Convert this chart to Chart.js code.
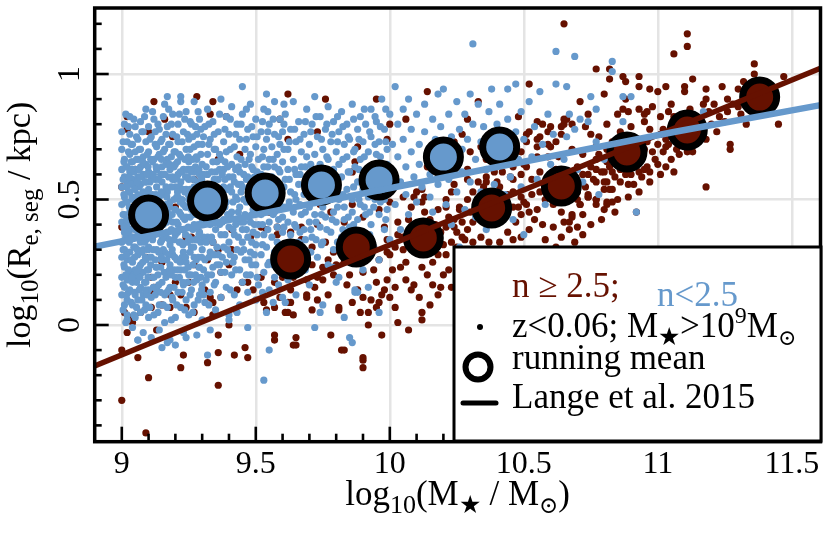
<!DOCTYPE html>
<html><head><meta charset="utf-8">
<script src="https://cdn.jsdelivr.net/npm/chart.js@4/dist/chart.umd.min.js"></script>
<style>html,body{margin:0;padding:0;background:#fff}canvas{display:block}
.pre{position:absolute;left:-1000px;top:0;font-family:"Liberation Serif";font-size:32px}</style>
</head><body>
<span class="pre">log 0.5 ★⊙≥</span>
<canvas id="c" width="830" height="536"></canvas>
<script>
const RED = '#661100', BLUE = '#6699cc';
const xTicks = [9, 9.5, 10, 10.5, 11, 11.5];
const yTicks = [0, 0.5, 1];

// running means
const redMeanX = [9.63, 9.875, 10.125, 10.38, 10.64, 10.885, 11.11, 11.38];
const redMeanY = [0.263, 0.311, 0.347, 0.466, 0.554, 0.689, 0.777, 0.908];
const blueMeanX = [9.10, 9.32, 9.535, 9.745, 9.96, 10.20, 10.41];
const blueMeanY = [0.438, 0.494, 0.526, 0.558, 0.578, 0.669, 0.709];

// Lange et al. 2015 relations
const langeRedX = [8.899, 11.607];
const langeRedY = [-0.163, 1.023];
const langeBlueX = [8.899, 11.06, 11.607];
const langeBlueY = [0.312, 0.769, 0.876];

// n<2.5 galaxies (x, y pairs)
const bluePts = [
9.00,0.62,9.00,0.55,9.00,0.48,9.00,0.41,9.00,0.33,9.00,0.27,9.00,0.19,9.00,0.12,9.00,0.70,9.00,0.77,
9.01,0.66,9.01,0.59,9.01,0.51,9.01,0.44,9.01,0.37,9.01,0.23,9.01,0.15,9.01,0.08,9.01,0.80,9.01,0.30,
9.02,0.73,9.02,0.63,9.02,0.57,9.02,0.49,9.02,0.40,9.02,0.34,9.02,0.26,9.02,0.18,9.02,0.04,9.02,0.10,
9.03,0.68,9.03,0.53,9.03,0.45,9.03,0.38,9.03,0.29,9.03,0.21,9.03,0.14,9.03,0.61,9.03,0.76,9.03,0.83,
9.04,0.72,9.04,0.65,9.04,0.58,9.04,0.50,9.04,0.42,9.04,0.35,9.04,0.25,9.04,0.17,9.04,0.08,9.04,-0.01,
9.05,0.79,9.05,0.62,9.05,0.55,9.05,0.47,9.05,0.39,9.05,0.31,9.05,0.22,9.05,0.12,9.05,0.03,9.05,0.69,
9.06,0.74,9.06,0.66,9.06,0.59,9.06,0.52,9.06,0.44,9.06,0.36,9.06,0.28,9.06,0.19,9.06,0.10,9.06,-0.06,
9.07,0.81,9.07,0.70,9.07,0.63,9.07,0.56,9.07,0.48,9.07,0.41,9.07,0.33,9.07,0.24,9.07,0.15,9.07,0.05,
9.08,0.77,9.08,0.67,9.08,0.60,9.08,0.53,9.08,0.45,9.08,0.37,9.08,0.30,9.08,0.21,9.08,0.12,9.08,-0.03,
9.09,0.73,9.09,0.64,9.09,0.57,9.09,0.50,9.09,0.42,9.09,0.34,9.09,0.26,9.09,0.17,9.09,0.08,9.09,0.86,
9.10,0.79,9.10,0.69,9.10,0.61,9.10,0.54,9.10,0.46,9.10,0.39,9.10,0.31,9.10,0.22,9.10,0.14,9.10,0.03,
9.11,0.75,9.11,0.58,9.11,0.27,9.11,0.11,9.11,-0.05,
9.12,0.82,9.12,0.66,9.12,0.49,9.12,0.36,9.12,0.19,9.12,0.04,
9.13,0.71,9.13,0.62,9.13,0.55,9.13,0.44,9.13,0.30,9.13,0.23,9.13,0.14,
9.14,0.78,9.14,0.68,9.14,0.51,9.14,0.39,9.14,0.08,9.14,-0.02,
9.15,0.74,9.15,0.63,9.15,0.57,9.15,0.47,9.15,0.34,9.15,0.26,9.15,0.17,
9.16,0.88,9.16,0.70,9.16,0.60,9.16,0.42,9.16,0.29,9.16,0.12,9.16,0.01,
9.17,0.79,9.17,0.66,9.17,0.53,9.17,0.45,9.17,0.37,9.17,0.21,9.17,0.07,
9.18,0.72,9.18,0.62,9.18,0.49,9.18,0.32,9.18,0.24,9.18,0.15,9.18,-0.06,
9.19,0.84,9.19,0.76,9.19,0.58,9.19,0.41,9.19,0.28,9.19,0.10,
9.20,0.69,9.20,0.64,9.20,0.55,9.20,0.46,9.20,0.36,9.20,0.19,9.20,0.03,
9.21,0.80,9.21,0.73,9.21,0.60,9.21,0.51,9.21,0.40,9.21,0.26,9.21,0.13,
9.22,0.91,9.22,0.67,9.22,0.57,9.22,0.44,9.22,0.33,9.22,0.22,9.22,0.07,
9.23,0.77,9.23,0.62,9.23,0.48,9.23,0.38,9.23,0.29,9.23,0.16,9.23,-0.03,
9.24,0.85,9.24,0.70,9.24,0.54,9.24,0.43,9.24,0.25,9.24,0.10,
9.25,0.74,9.25,0.65,9.25,0.58,9.25,0.50,9.25,0.35,9.25,0.20,9.25,0.04,
9.26,0.80,9.26,0.61,9.26,0.46,9.26,0.31,9.26,0.14,
9.27,0.89,9.27,0.71,9.27,0.55,9.27,0.40,9.27,0.27,9.27,0.08,
9.28,0.76,9.28,0.66,9.28,0.51,9.28,0.44,9.28,0.34,9.28,0.18,9.28,-0.04,
9.29,0.82,9.29,0.60,9.29,0.48,9.29,0.37,9.29,0.23,9.29,0.12,
9.30,0.72,9.30,0.64,9.30,0.56,9.30,0.41,9.30,0.30,9.30,0.16,9.30,0.02,
9.31,0.79,9.31,0.51,9.31,0.26,9.31,0.09,
9.32,0.86,9.32,0.68,9.32,0.60,9.32,0.45,9.32,0.35,9.32,0.20,
9.33,0.74,9.33,0.56,9.33,0.40,9.33,0.29,9.33,0.13,9.33,-0.02,
9.34,0.81,9.34,0.65,9.34,0.49,9.34,0.33,9.34,0.23,
9.35,0.70,9.35,0.61,9.35,0.44,9.35,0.38,9.35,0.17,9.35,0.06,
9.36,0.77,9.36,0.58,9.36,0.52,9.36,0.28,
9.37,0.90,9.37,0.66,9.37,0.46,9.37,0.36,9.37,0.21,9.37,0.11,
9.38,0.73,9.38,0.62,9.38,0.55,9.38,0.42,9.38,0.31,
9.39,0.83,9.39,0.69,9.39,0.49,9.39,0.25,9.39,0.15,
9.40,0.76,9.40,0.59,9.40,0.39,9.40,0.33,9.40,0.04,
9.41,0.87,9.41,0.64,9.41,0.53,9.41,0.45,9.41,0.20,
9.42,0.71,9.42,0.57,9.42,0.36,9.42,0.27,9.42,0.12,
9.43,0.80,9.43,0.67,9.43,0.50,9.43,0.41,9.43,0.30,
9.44,0.74,9.44,0.61,9.44,0.47,9.44,0.22,9.44,0.08,
9.45,0.84,9.45,0.55,9.45,0.38,9.45,0.33,9.45,0.17,
9.46,0.70,9.46,0.64,9.46,0.44,9.46,0.26,
9.47,0.78,9.47,0.59,9.47,0.51,9.47,0.35,9.47,0.13,9.47,-0.01,
9.48,0.88,9.48,0.68,9.48,0.41,9.48,0.29,9.48,0.20,
9.49,0.75,9.49,0.62,9.49,0.54,9.49,0.46,9.49,0.37,
9.50,0.82,9.50,0.71,9.50,0.57,9.50,0.32,9.50,0.24,9.50,0.10,
9.51,0.66,9.51,0.49,9.51,0.40,9.51,0.16,
9.52,0.77,9.52,0.60,9.52,0.44,9.52,0.28,
9.53,0.86,9.53,0.70,9.53,0.63,9.53,0.36,9.53,0.21,
9.54,0.74,9.54,0.56,9.54,0.47,9.54,0.31,9.54,0.05,
9.55,0.80,9.55,0.66,9.55,0.41,9.55,0.25,9.55,0.14,
9.56,0.71,9.56,0.59,9.56,0.52,9.56,0.35,
9.57,0.89,9.57,0.76,9.57,0.63,9.57,0.45,9.57,0.29,9.57,0.19,
9.58,0.68,9.58,0.55,9.58,0.39,9.58,0.33,
9.59,0.82,9.59,0.72,9.59,0.61,9.59,0.48,9.59,0.23,
9.60,0.77,9.60,0.65,9.60,0.43,9.60,0.37,9.60,0.11,
9.61,0.84,9.61,0.58,9.61,0.47,9.61,0.30,
9.62,0.70,9.62,0.62,9.62,0.41,9.62,0.18,
9.63,0.78,9.63,0.53,9.63,0.36,
9.64,0.89,9.64,0.66,9.64,0.45,9.64,0.26,
9.65,0.73,9.65,0.60,9.65,0.50,9.65,0.39,9.65,0.12,
9.66,0.81,9.66,0.56,9.66,0.33,
9.67,0.69,9.67,0.63,9.67,0.44,9.67,0.22,
9.68,0.76,9.68,0.52,9.68,0.38,
9.69,0.86,9.69,0.67,9.69,0.58,9.69,0.29,
9.70,0.72,9.70,0.47,9.70,0.41,9.70,0.16,
9.71,0.80,9.71,0.62,9.71,0.54,9.71,0.35,
9.72,0.91,9.72,0.68,9.72,0.44,
9.73,0.75,9.73,0.58,9.73,0.49,9.73,0.27,
9.74,0.83,9.74,0.64,9.74,0.39,
9.75,0.70,9.75,0.61,9.75,0.47,9.75,0.33,9.75,0.08,
9.76,0.78,9.76,0.53,9.76,0.43,
9.77,0.87,9.77,0.66,9.77,0.57,9.77,0.24,
9.78,0.73,9.78,0.50,9.78,0.37,
9.79,0.81,9.79,0.62,9.79,0.45,9.79,0.30,
9.80,0.69,9.80,0.55,9.80,0.41,
9.81,0.77,9.81,0.64,9.81,0.50,9.81,0.19,
9.82,0.85,9.82,0.59,9.82,0.35,
9.83,0.72,9.83,0.47,9.83,0.42,
9.84,0.80,9.84,0.67,9.84,0.54,9.84,0.28,
9.85,0.74,9.85,0.61,9.85,0.39,
9.86,0.88,9.86,0.50,9.86,0.45,
9.87,0.70,9.87,0.63,9.87,0.33,9.87,0.14,
9.88,0.78,9.88,0.57,9.88,0.42,
9.89,0.83,9.89,0.66,9.89,0.48,
9.90,0.73,9.90,0.54,9.90,0.37,9.90,0.22,
9.91,0.80,9.91,0.60,9.91,0.44,
9.92,0.69,9.92,0.51,
9.93,0.86,9.93,0.75,9.93,0.62,9.93,0.40,
9.94,0.57,9.94,0.47,9.94,0.31,
9.95,0.81,9.95,0.68,9.95,0.53,
9.96,0.73,9.96,0.44,9.96,0.26,
9.97,0.90,9.97,0.63,9.97,0.58,
9.98,0.78,9.98,0.50,9.98,0.38,
9.99,0.70,9.99,0.64,9.99,0.46,
10.00,0.84,10.00,0.55,10.00,0.34,
10.01,0.72,10.01,0.61,10.02,0.95,10.02,0.48,10.03,0.80,10.03,0.67,10.04,0.57,10.04,0.38,10.05,0.86,10.05,0.74,
10.06,0.52,10.06,0.63,10.07,0.44,10.07,0.90,10.08,0.78,10.08,0.69,10.09,0.59,10.09,0.33,10.10,0.84,10.10,0.49,
10.11,0.72,10.11,0.64,10.12,0.55,10.12,0.41,10.13,0.88,10.13,0.77,10.14,0.68,10.14,0.29,10.15,0.60,10.15,0.51,
10.16,0.82,10.16,0.45,10.17,0.74,10.17,0.36,10.18,0.92,10.18,0.56,10.19,0.79,10.19,0.62,10.20,0.94,10.20,0.70,
10.21,0.48,10.22,0.84,10.22,0.58,10.23,0.75,10.23,0.40,10.24,0.65,10.25,0.89,10.25,0.53,10.26,0.78,10.26,0.31,
10.27,0.70,10.27,0.61,10.28,0.84,10.28,0.46,10.29,0.74,10.30,0.92,10.30,0.57,10.31,1.12,10.31,0.80,10.32,0.66,
10.32,0.43,10.33,0.88,10.34,0.73,10.34,0.53,10.35,0.79,10.36,0.62,10.36,0.38,10.37,0.85,10.38,0.94,10.38,0.69,
10.39,0.56,10.40,0.80,10.40,0.47,10.41,0.88,10.42,0.76,10.42,0.64,10.43,0.52,10.44,0.94,10.44,0.82,10.45,0.71,
10.45,0.59,10.46,0.42,10.47,0.96,10.47,0.77,10.48,0.66,10.49,0.85,10.49,0.55,10.50,0.74,10.50,0.36,
10.52,0.89,10.53,0.67,10.54,0.79,10.55,0.58,10.56,0.93,10.57,0.72,10.58,0.48,10.59,0.84,10.60,0.64,10.61,0.76,
10.62,0.96,10.62,1.09,10.63,0.55,10.65,0.66,10.66,0.95,10.67,0.84,10.66,0.75,10.69,1.07,10.69,0.78,10.70,0.62,
10.72,0.57,10.75,0.91,10.77,0.86,10.74,0.81,10.71,0.82,10.77,0.73,10.80,0.66,10.83,1.05,10.83,1.01,10.87,0.91,
10.90,0.91,10.87,0.81,10.92,0.45,11.17,0.85,10.85,0.68,10.78,0.52,
9.17,0.91,9.22,0.89,9.45,0.95,9.54,0.92,9.53,-0.22,9.55,-0.10,9.61,0.09,9.72,-0.01,9.74,0.05,9.83,0.03,
9.85,-0.05,9.86,-0.07,9.88,0.13,9.40,0.02,9.43,0.05,9.32,-0.12,9.24,-0.05,9.17,-0.07,9.15,-0.09,9.20,-0.08,
9.06,-0.06,9.02,0.02,9.96,0.05,9.87,0.13,9.92,0.15,9.80,0.17,9.79,0.23,
9.005,0.58,9.005,0.44,9.005,0.30,9.005,0.16,9.005,0.73,9.005,0.06,
9.015,0.63,9.015,0.49,9.015,0.35,9.015,0.20,9.015,0.84,9.015,0.01,
9.025,0.69,9.025,0.53,9.025,0.37,9.025,0.22,9.025,0.79,9.025,0.13,
9.035,0.56,9.035,0.42,9.035,0.26,9.035,0.09,9.035,0.72,9.035,0.65,
9.045,0.61,9.045,0.46,9.045,0.31,9.045,0.20,9.045,0.82,9.045,0.04,
9.055,0.66,9.055,0.51,9.055,0.35,9.055,0.17,9.055,0.75,9.055,0.07,
9.065,0.70,9.065,0.55,9.065,0.40,9.065,0.23,9.065,0.62,9.065,0.14,
9.075,0.59,9.075,0.44,9.075,0.29,9.075,0.10,9.075,0.77,9.075,0.52,
9.085,0.64,9.085,0.49,9.085,0.33,9.085,0.17,9.085,0.83,9.085,0.06,
9.095,0.68,9.095,0.53,9.095,0.38,9.095,0.22,9.095,0.60,9.095,0.12,
9.105,0.74,9.105,0.57,9.105,0.43,9.105,0.27,9.105,0.35,9.105,0.07,
9.115,0.65,9.115,0.52,9.115,0.41,9.115,0.34,9.115,0.19,9.115,0.85,
9.125,0.72,9.125,0.58,9.125,0.44,9.125,0.26,9.125,0.12,9.125,0.77,
9.135,0.67,9.135,0.50,9.135,0.37,9.135,0.20,9.135,0.80,9.135,0.05,
9.145,0.60,9.145,0.45,9.145,0.33,9.145,0.23,9.145,0.13,9.145,0.73,
9.155,0.69,9.155,0.52,9.155,0.40,9.155,0.30,9.155,0.08,9.155,0.83,
9.165,0.64,9.165,0.48,9.165,0.35,9.165,0.19,9.165,0.76,9.165,0.55,
9.175,0.72,9.175,0.59,9.175,0.42,9.175,0.28,9.175,0.14,9.175,0.86,
9.185,0.67,9.185,0.55,9.185,0.38,9.185,0.20,9.185,0.80,9.185,0.02,
9.195,0.63,9.195,0.50,9.195,0.34,9.195,0.22,9.195,0.69,9.195,0.15,
9.205,0.75,9.205,0.59,9.205,0.41,9.205,0.26,9.205,0.08,9.205,0.51,
9.215,0.68,9.215,0.55,9.215,0.45,9.215,0.33,9.215,0.19,9.215,0.84,
9.225,0.73,9.225,0.61,9.225,0.50,9.225,0.38,9.225,0.27,9.225,0.13,
9.235,0.82,9.235,0.66,9.235,0.53,9.235,0.42,9.235,0.22,9.235,0.06,
9.245,0.76,9.245,0.62,9.245,0.47,9.245,0.33,9.245,0.17,9.245,0.59,
9.255,0.70,9.255,0.54,9.255,0.43,9.255,0.29,9.255,0.12,9.255,0.81,
9.265,0.66,9.265,0.52,9.265,0.38,9.265,0.24,9.265,0.75,9.265,0.05,
9.275,0.79,9.275,0.61,9.275,0.48,9.275,0.34,9.275,0.20,9.275,0.63,
9.285,0.72,9.285,0.57,9.285,0.40,9.285,0.27,9.285,0.10,9.285,0.85,
9.295,0.68,9.295,0.52,9.295,0.46,9.295,0.33,9.295,0.19,9.295,0.78,
9.305,0.75,9.305,0.60,9.305,0.46,9.305,0.35,9.305,0.22,9.305,0.12,
9.325,0.72,9.325,0.55,9.325,0.41,9.325,0.27,9.325,0.08,9.325,0.80,
9.345,0.76,9.345,0.58,9.345,0.43,9.345,0.28,9.345,0.16,9.345,0.70,
9.365,0.84,9.365,0.68,9.365,0.48,9.365,0.40,9.365,0.24,9.365,0.62,
9.385,0.78,9.385,0.65,9.385,0.47,9.385,0.36,9.385,0.21,9.385,0.58,
9.405,0.70,9.405,0.55,9.405,0.44,9.405,0.28,9.405,0.14,9.405,0.82,
9.425,0.76,9.425,0.62,9.425,0.51,9.425,0.40,9.425,0.22,9.425,0.06,
9.445,0.80,9.445,0.66,9.445,0.53,9.445,0.41,9.445,0.29,9.445,0.56,
9.465,0.74,9.465,0.58,9.465,0.49,9.465,0.38,9.465,0.20,9.465,0.86,
9.485,0.79,9.485,0.63,9.485,0.56,9.485,0.44,9.485,0.33,9.485,0.24,
9.505,0.75,9.505,0.61,9.505,0.52,9.505,0.45,9.505,0.36,9.505,0.19,
9.525,0.81,9.525,0.67,9.525,0.55,9.525,0.40,9.525,0.32,9.525,0.13,
9.545,0.77,9.545,0.63,9.545,0.51,9.545,0.38,9.545,0.24,9.545,0.85,
9.565,0.82,9.565,0.66,9.565,0.56,9.565,0.44,9.565,0.24,9.565,0.09,
9.585,0.75,9.585,0.62,9.585,0.50,9.585,0.42,9.585,0.28,9.585,0.16,
9.605,0.80,9.605,0.70,9.605,0.55,9.605,0.39,9.605,0.25,9.605,0.88,
9.625,0.73,9.625,0.58,9.625,0.49,9.625,0.33,9.625,0.24,
9.645,0.78,9.645,0.62,9.645,0.52,9.645,0.40,9.645,0.31,
9.665,0.74,9.665,0.60,9.665,0.48,9.665,0.37,9.665,0.27,
9.685,0.81,9.685,0.63,9.685,0.45,9.685,0.34,9.685,0.22,
9.705,0.77,9.705,0.64,9.705,0.56,9.705,0.38,9.705,0.29,
9.725,0.83,9.725,0.62,9.725,0.53,9.725,0.41,9.725,0.34,
9.745,0.74,9.745,0.58,9.745,0.44,9.745,0.32,
9.765,0.80,9.765,0.67,9.765,0.50,9.765,0.38,
9.785,0.76,9.785,0.61,9.785,0.54,9.785,0.42,
9.805,0.83,9.805,0.73,9.805,0.47,9.805,0.33,
9.825,0.79,9.825,0.66,9.825,0.52,9.825,0.38,
9.845,0.75,9.845,0.61,9.845,0.43,9.845,0.32,
9.865,0.82,9.865,0.69,9.865,0.55,9.865,0.40,
9.885,0.74,9.885,0.62,9.885,0.50,9.885,0.35,
9.905,0.86,9.905,0.67,9.905,0.57,9.905,0.47,
9.925,0.77,9.925,0.62,9.925,0.45,9.925,0.36,
9.945,0.83,9.945,0.72,9.945,0.64,9.945,0.50,
9.965,0.79,9.965,0.67,9.965,0.55,9.965,0.49,
9.985,0.86,9.985,0.73,9.985,0.58,9.985,0.42,
9.008,0.52,9.008,0.39,9.008,0.24,9.008,0.65,9.018,0.55,9.018,0.42,9.018,0.28,9.018,0.12,
9.028,0.47,9.028,0.33,9.028,0.18,9.028,0.59,9.038,0.51,9.038,0.35,9.038,0.19,9.038,0.62,
9.048,0.54,9.048,0.38,9.048,0.27,9.048,0.13,9.058,0.43,9.058,0.30,9.058,0.57,9.058,0.21,
9.068,0.46,9.068,0.36,9.068,0.19,9.068,0.59,9.078,0.50,9.078,0.39,9.078,0.25,9.078,0.65,
9.088,0.41,9.088,0.27,9.088,0.57,9.088,0.14,9.098,0.46,9.098,0.30,9.098,0.63,9.098,0.19,
9.108,0.51,9.108,0.37,9.108,0.24,9.108,0.66,9.118,0.46,9.118,0.30,9.118,0.60,9.118,0.15,
9.128,0.52,9.128,0.39,9.128,0.23,9.128,0.63,9.138,0.44,9.138,0.29,9.138,0.58,9.138,0.16,
9.148,0.53,9.148,0.40,9.148,0.27,9.148,0.66,9.158,0.46,9.158,0.35,9.158,0.21,9.158,0.60,
9.168,0.51,9.168,0.41,9.168,0.26,9.168,0.13,9.178,0.47,9.178,0.34,9.178,0.22,9.178,0.64,
9.188,0.44,9.188,0.30,9.188,0.59,9.188,0.11,9.198,0.46,9.198,0.37,9.198,0.27,9.198,0.58,
9.208,0.53,9.208,0.37,9.208,0.22,9.208,0.65,9.218,0.49,9.218,0.38,9.218,0.25,9.218,0.61,
9.228,0.54,9.228,0.43,9.228,0.32,9.228,0.17,9.238,0.47,9.238,0.36,9.238,0.27,9.238,0.59,
9.248,0.52,9.248,0.39,9.248,0.23,9.248,0.67,9.258,0.48,9.258,0.34,9.258,0.20,9.258,0.62,
9.268,0.58,9.268,0.44,9.268,0.31,9.268,0.17,9.278,0.53,9.278,0.39,9.278,0.26,9.278,0.67,
9.288,0.48,9.288,0.36,9.288,0.23,9.288,0.62,9.298,0.58,9.298,0.40,9.298,0.27,9.298,0.14,
9.315,0.63,9.315,0.47,9.315,0.33,9.315,0.18,9.335,0.61,9.335,0.47,9.335,0.35,9.335,0.20,
9.355,0.65,9.355,0.53,9.355,0.31,9.355,0.24,9.375,0.60,9.375,0.51,9.375,0.41,9.375,0.27,
9.395,0.63,9.395,0.54,9.395,0.44,9.395,0.30,9.415,0.59,9.415,0.49,9.415,0.38,9.415,0.25,
9.435,0.63,9.435,0.56,9.435,0.45,9.435,0.35,9.455,0.60,9.455,0.50,9.455,0.41,9.455,0.30,
9.475,0.66,9.475,0.55,9.475,0.43,9.475,0.26,9.495,0.59,9.495,0.50,9.495,0.40,9.495,0.28
];

// n>=2.5 galaxies (x, y pairs)
const redPts = [
9.00,-0.10,9.00,-0.30,9.06,-0.13,9.10,-0.21,9.09,-0.43,9.36,-0.24,9.22,-0.17,9.23,-0.12,9.32,-0.15,9.36,-0.11,
9.36,-0.04,9.40,0.00,9.42,-0.12,9.46,-0.09,9.47,-0.13,9.54,0.06,9.57,-0.04,9.57,-0.06,9.65,-0.05,9.65,-0.08,
9.64,0.04,9.62,0.05,9.69,0.12,9.73,0.10,9.78,-0.04,9.82,-0.10,9.81,0.06,9.90,-0.14,9.90,-0.17,9.97,-0.04,
10.03,0.01,10.02,0.07,10.12,0.05,10.12,0.02,10.16,0.16,10.20,0.20,10.23,0.15,9.02,-0.03,9.04,0.01,9.13,-0.02,
9.00,0.39,9.03,0.38,9.13,0.38,9.24,0.35,9.26,0.35,9.34,0.33,9.36,0.30,9.41,0.30,9.41,0.38,9.48,0.35,
9.54,0.38,9.58,0.36,9.40,0.24,9.37,0.21,9.32,0.26,9.27,0.24,9.15,0.25,9.09,0.27,9.11,0.19,9.12,0.15,
9.11,0.13,9.20,0.17,9.25,0.17,9.18,0.12,9.22,0.12,9.24,0.07,9.27,0.05,9.34,0.09,9.37,0.11,9.43,0.14,
9.49,0.14,9.53,0.09,9.57,0.07,9.61,0.05,9.62,0.09,9.01,0.05,9.03,0.03,9.07,0.05,9.11,0.07,9.15,0.08,
9.18,0.07,9.31,0.14,9.33,0.11,9.34,0.04,9.45,0.17,9.47,0.17,9.52,0.19,9.57,0.17,9.60,0.19,9.59,0.11,
9.12,0.89,9.28,0.91,9.34,0.89,9.02,0.83,9.02,0.78,9.16,0.82,9.33,0.84,9.39,0.83,9.62,0.92,9.59,0.82,
9.10,0.77,9.19,0.75,9.36,0.66,9.00,0.55,9.05,0.62,9.20,0.47,9.44,0.68,9.51,0.60,9.27,0.58,9.62,0.74,
9.70,0.55,9.55,0.45,9.52,0.39,9.58,0.39,
9.86,0.48,9.90,0.43,9.96,0.46,10.00,0.49,10.03,0.41,10.08,0.47,10.12,0.49,10.18,0.46,10.21,0.50,10.15,0.42,
10.26,0.47,10.24,0.39,10.29,0.38,10.28,0.34,10.31,0.41,10.20,0.32,10.21,0.28,10.18,0.28,10.16,0.25,10.12,0.23,
10.06,0.25,10.04,0.23,10.01,0.22,9.96,0.26,9.94,0.22,9.95,0.17,9.99,0.18,9.98,0.14,10.00,0.11,9.96,0.09,
9.93,0.10,9.95,0.07,9.90,0.11,9.88,0.14,9.84,0.16,9.79,0.20,9.75,0.18,9.73,0.19,9.69,0.18,9.64,0.19,
9.63,0.14,9.63,0.09,9.69,0.11,9.72,0.15,9.81,0.07,9.89,0.05,9.92,0.05,10.08,0.14,10.11,0.11,10.18,0.12,
10.19,0.15,10.09,0.16,9.64,-0.08,9.83,-0.10,9.90,-0.13,
9.74,0.48,9.78,0.45,9.83,0.41,9.73,0.40,9.67,0.39,9.63,0.37,9.67,0.34,9.71,0.31,9.76,0.33,9.79,0.29,
9.83,0.25,9.88,0.25,9.90,0.21,9.99,0.34,9.99,0.29,10.02,0.31,10.05,0.35,9.97,0.52,10.09,0.51,10.13,0.51,
10.14,0.93,10.52,0.96,10.33,0.89,10.06,0.82,10.00,0.80,9.99,0.74,9.88,0.71,9.87,0.65,9.86,0.61,9.76,0.90,
9.95,0.90,9.73,0.77,10.29,0.82,10.48,0.83,10.51,0.76,10.55,0.74,10.59,0.72,10.64,0.79,10.65,0.82,10.55,0.67,
10.45,0.71,10.40,0.69,10.36,0.66,10.34,0.71,10.30,0.69,10.27,0.76,10.24,0.73,10.21,0.67,10.14,0.63,10.12,0.54,
10.10,0.53,10.05,0.51,10.29,0.62,10.29,0.58,10.24,0.56,10.46,0.58,10.51,0.63,10.41,0.55,10.36,0.57,
10.80,0.92,10.88,0.90,10.71,0.89,10.66,0.82,10.68,0.80,10.73,0.79,10.52,0.77,10.56,0.75,10.59,0.77,10.64,0.76,
10.62,0.73,10.60,0.71,10.55,0.71,10.51,0.73,10.49,0.69,10.59,0.67,10.63,0.67,10.68,0.70,10.72,0.68,10.77,0.66,
10.81,0.65,10.77,0.62,10.74,0.60,10.70,0.63,10.67,0.61,10.77,0.57,10.81,0.57,10.83,0.54,10.86,0.57,10.90,0.60,
10.91,0.56,10.89,0.51,10.85,0.50,10.81,0.49,10.77,0.48,10.74,0.51,10.70,0.50,10.72,0.44,10.68,0.43,10.65,0.41,
10.61,0.39,10.57,0.40,10.54,0.42,10.52,0.45,10.50,0.49,10.49,0.51,10.46,0.53,10.48,0.47,10.52,0.38,10.49,0.35,
10.46,0.34,10.44,0.37,10.41,0.33,10.37,0.33,10.34,0.35,10.31,0.33,10.27,0.35,10.25,0.31,10.23,0.33,10.21,0.39,
10.24,0.42,10.26,0.46,10.29,0.50,10.31,0.53,10.35,0.55,10.40,0.57,10.45,0.59,10.49,0.60,10.50,0.64,10.46,0.63,
10.42,0.61,10.39,0.61,10.36,0.59,10.33,0.57,10.23,0.53,10.21,0.47,10.55,0.81,10.57,0.80,10.60,0.79,10.65,0.80,
10.74,0.84,10.75,0.76,10.78,0.75,10.83,0.73,10.87,0.71,10.77,0.71,10.81,0.80,10.85,0.84,10.87,0.86,10.53,0.58,
10.56,0.61,10.60,0.59,10.62,0.62,
10.58,0.34,10.62,0.31,10.64,0.35,10.69,0.33,10.72,0.36,10.75,0.40,10.79,0.42,10.80,0.46,10.84,0.45,10.92,0.45,
10.67,0.41,10.70,0.39,10.67,0.38,10.71,0.48,10.77,0.50,10.74,0.52,
10.65,1.20,11.11,1.16,11.11,1.11,11.06,1.08,10.77,1.02,10.82,1.02,10.82,0.98,10.87,0.99,10.93,0.99,10.88,0.97,
10.93,0.95,10.97,0.94,11.00,0.93,11.03,0.95,11.10,0.95,11.13,0.98,11.18,0.94,11.24,0.95,11.30,0.94,11.32,0.97,
11.36,1.04,11.36,1.00,11.47,0.99,11.45,0.80,11.27,0.72,11.27,0.70,11.18,0.74,11.18,0.55,11.26,0.85,11.26,0.90,
11.18,0.90,11.17,0.88,11.10,0.93,11.05,0.88,11.04,0.85,11.01,0.83,10.98,0.87,10.96,0.85,10.93,0.86,10.89,0.85,
10.95,0.84,10.95,0.81,11.01,0.76,11.03,0.74,11.03,0.71,11.02,0.69,11.08,0.68,11.11,0.69,11.13,0.69,11.06,0.61,
11.03,0.63,11.01,0.60,10.97,0.57,10.97,0.61,10.94,0.59,10.93,0.61,10.89,0.56,10.96,0.63,10.92,0.65,10.83,0.61,
10.80,0.61,10.80,0.57,10.80,0.54,10.82,0.54,10.83,0.49,10.81,0.48,10.77,0.50,10.74,0.51,10.71,0.48,10.68,0.44,
11.20,0.80,11.23,0.83,11.15,0.82,11.08,0.79,11.06,0.83,11.12,0.86,11.21,0.88,11.30,0.87,11.34,0.91,11.40,0.95,
11.42,0.88,11.38,0.84,11.33,0.80,11.14,0.76,11.09,0.73,11.00,0.72,10.97,0.78,10.93,0.74,10.99,0.66,11.05,0.66,
10.95,0.70,10.90,0.79,10.86,0.77,10.84,0.68,10.88,0.64,10.93,0.53,10.86,0.62,
10.30,0.45,10.32,0.48,10.34,0.44,10.36,0.50,10.38,0.41,10.39,0.46,10.41,0.49,10.43,0.43,10.44,0.52,10.46,0.47,
10.47,0.41,10.49,0.44,10.51,0.48,10.53,0.52,10.55,0.46,10.56,0.53,10.58,0.50,10.60,0.55,10.61,0.48,10.63,0.51,
10.64,0.45,10.66,0.55,10.67,0.50,10.69,0.57,10.70,0.53,10.72,0.60,10.73,0.55,10.75,0.63,10.76,0.58,10.78,0.68,
10.79,0.61,10.81,0.70,10.82,0.63,10.84,0.59,10.85,0.74,10.87,0.66,10.88,0.60,10.90,0.68,10.91,0.72,10.93,0.66,
10.95,0.62,10.96,0.73,10.98,0.69,11.00,0.64,11.02,0.78,11.04,0.72,11.06,0.75,11.07,0.70,11.10,0.80,11.12,0.74,
11.16,0.78,11.19,0.85,11.22,0.77,11.25,0.81,11.28,0.88,11.31,0.84,11.35,0.87,11.37,0.93,11.44,0.91,
10.27,0.41,10.25,0.37,10.22,0.43,10.19,0.37,10.17,0.40,10.14,0.35,10.13,0.45,10.10,0.39,10.07,0.42,10.05,0.30,
10.03,0.36,10.00,0.28,9.98,0.39,9.94,0.31,9.92,0.36,9.90,0.29,9.87,0.33,9.85,0.20,9.82,0.30,9.80,0.24,
9.77,0.26,9.75,0.23,9.71,0.24,9.68,0.27,9.66,0.21,9.65,0.30,10.10,0.30,10.14,0.20,10.22,0.22,10.26,0.26,
10.28,0.20,10.06,0.18,10.02,0.15,9.97,0.12,9.86,0.09,9.77,0.12,9.71,0.06,9.92,0.00,10.07,-0.02,10.15,0.08
];

function pairs(a){ const out=[]; for(let i=0;i<a.length;i+=2) out.push({x:a[i],y:a[i+1]}); return out; }
function zip(xs,ys){ return xs.map((x,i)=>({x:x,y:ys[i]})); }

const FAM = '"Liberation Serif","Times New Roman",Tinos,"DejaVu Serif",serif';
function fnt(s){ return s+'px '+FAM; }
function richWidth(ctx, segs){ let w=0; for(const s of segs){ ctx.font=fnt(s.size); w+=ctx.measureText(s.t).width; } return w; }
function drawRich(ctx, segs, x, y, align, color){
  let cx = align==='center' ? x - richWidth(ctx,segs)/2 : x;
  ctx.textAlign='left'; ctx.textBaseline='alphabetic';
  for(const s of segs){ ctx.font=fnt(s.size); ctx.fillStyle=s.color||color; ctx.fillText(s.t, cx, y+(s.dy||0)); cx+=ctx.measureText(s.t).width; }
}
function seg(t,size,dy){ return {t:t,size:size,dy:dy||0}; }

const decor = {
  id:'decor',
  afterDraw(chart){
    const ctx=chart.ctx, a=chart.chartArea, xs=chart.scales.x, ys=chart.scales.y;
    ctx.save();
    ctx.strokeStyle='#000'; ctx.lineWidth=2.6; ctx.lineCap='butt';
    for(let i=-4;i<=12;i++){
      const py=ys.getPixelForValue(i/10), L=(i%5===0)?14:7;
      ctx.beginPath(); ctx.moveTo(a.left,py); ctx.lineTo(a.left+L,py); ctx.stroke();
    }
    for(let i=90;i<=116;i++){
      const px=xs.getPixelForValue(i/10), L=(i%5===0)?15:8;
      ctx.beginPath(); ctx.moveTo(px,a.bottom); ctx.lineTo(px,a.bottom-L); ctx.stroke();
    }
    ctx.lineWidth=3.5;
    ctx.strokeRect(a.left,a.top,a.right-a.left,a.bottom-a.top);

    ctx.fillStyle='#000'; ctx.font=fnt(32);
    for(const v of yTicks){
      const py=ys.getPixelForValue(v);
      ctx.save(); ctx.translate(79,py); ctx.rotate(-Math.PI/2);
      ctx.textAlign='center'; ctx.textBaseline='alphabetic'; ctx.fillText(String(v),0,0);
      ctx.restore();
    }
    const xTitle=[seg('log',35),seg('10',26,8),seg('(M',35),seg('\u2605',25,8),seg(' / M',35),seg('\u2299',23,8),seg(')',35)];
    drawRich(ctx,xTitle,(a.left+a.right)/2,505,'center','#000');
    const yTitle=[seg('log',34),seg('10',25,8),seg('(R',34),seg('e, seg',25,8),seg(' / kpc)',34)];
    ctx.save(); ctx.translate(30,(a.top+a.bottom)/2); ctx.rotate(-Math.PI/2);
    drawRich(ctx,yTitle,0,0,'center','#000'); ctx.restore();

    const L={x0:454,y0:247,x1:821,y1:441};
    ctx.fillStyle='#fff'; ctx.fillRect(L.x0,L.y0,L.x1-L.x0,L.y1-L.y0);
    ctx.lineWidth=3; ctx.strokeStyle='#000'; ctx.strokeRect(L.x0,L.y0,L.x1-L.x0,L.y1-L.y0);
    drawRich(ctx,[seg('n \u2265 2.5;',35)],512,297,'left',RED);
    drawRich(ctx,[seg('n<2.5',35)],657,306,'left',BLUE);
    ctx.fillStyle='#000'; ctx.beginPath(); ctx.arc(480,327,3,0,Math.PI*2); ctx.fill();
    drawRich(ctx,[seg('z<0.06; M',35),seg('\u2605',25,8),seg('>10',35),seg('9',24,-14),seg('M',35),seg('\u2299',22,8)],512,337,'left','#000');
    ctx.lineWidth=6; ctx.beginPath(); ctx.arc(478,367,12.5,0,Math.PI*2); ctx.stroke();
    drawRich(ctx,[seg('running mean',35)],512,369,'left','#000');
    ctx.lineWidth=5; ctx.lineCap='round'; ctx.beginPath(); ctx.moveTo(463,403); ctx.lineTo(496,403); ctx.stroke();
    drawRich(ctx,[seg('Lange et al. 2015',35)],512,408,'left','#000');
    ctx.restore();
  }
};

function build(){
new Chart(document.getElementById('c'), {
  type:'scatter',
  data:{ datasets:[
    { type:'line', data:zip(langeBlueX,langeBlueY), borderColor:BLUE, borderWidth:6.5, pointRadius:0, tension:0, fill:false, order:0 },
    { type:'line', data:zip(langeRedX,langeRedY), borderColor:RED, borderWidth:5.5, pointRadius:0, tension:0, fill:false, order:0 },
    { data:zip(blueMeanX,blueMeanY), pointRadius:17, borderWidth:7, borderColor:'#000', backgroundColor:BLUE, order:1 },
    { data:zip(redMeanX,redMeanY), pointRadius:17, borderWidth:7, borderColor:'#000', backgroundColor:RED, order:1 },
    { data:pairs(bluePts), pointRadius:3.6, borderWidth:0, backgroundColor:BLUE, order:2 },
    { data:pairs(redPts), pointRadius:3.6, borderWidth:0, backgroundColor:RED, order:3 }
  ]},
  options:{
    responsive:false, animation:false, events:[],
    layout:{ autoPadding:false, padding:{ top:8, right:9.5, left:0, bottom:0 } },
    plugins:{ legend:{display:false}, tooltip:{enabled:false} },
    scales:{
      x:{ type:'linear', min:8.899, max:11.607,
          afterBuildTicks:s=>{ s.ticks=xTicks.map(v=>({value:v})); },
          afterFit:s=>{ s.height=94.3; },
          grid:{ color:'#e4e4e4', lineWidth:2.5, drawTicks:false },
          border:{ display:false },
          ticks:{ color:'#000', font:{ family:FAM, size:32 }, padding:4, maxRotation:0, minRotation:0, autoSkip:false, callback:v=>String(v) } },
      y:{ type:'linear', min:-0.465, max:1.263,
          afterBuildTicks:s=>{ s.ticks=yTicks.map(v=>({value:v})); },
          afterFit:s=>{ s.width=94.7; },
          grid:{ color:'#e4e4e4', lineWidth:2.5, drawTicks:false },
          border:{ display:false },
          ticks:{ display:false } }
    }
  },
  plugins:[decor]
});
}
let built=false;
function go(){ if(!built){ built=true; build(); } }
if (document.fonts && document.fonts.load) {
  Promise.all([document.fonts.load('32px "Liberation Serif"'), document.fonts.load('32px "Times New Roman"')]).then(go, go);
  setTimeout(go, 1500);
} else { go(); }
</script>
</body></html>
